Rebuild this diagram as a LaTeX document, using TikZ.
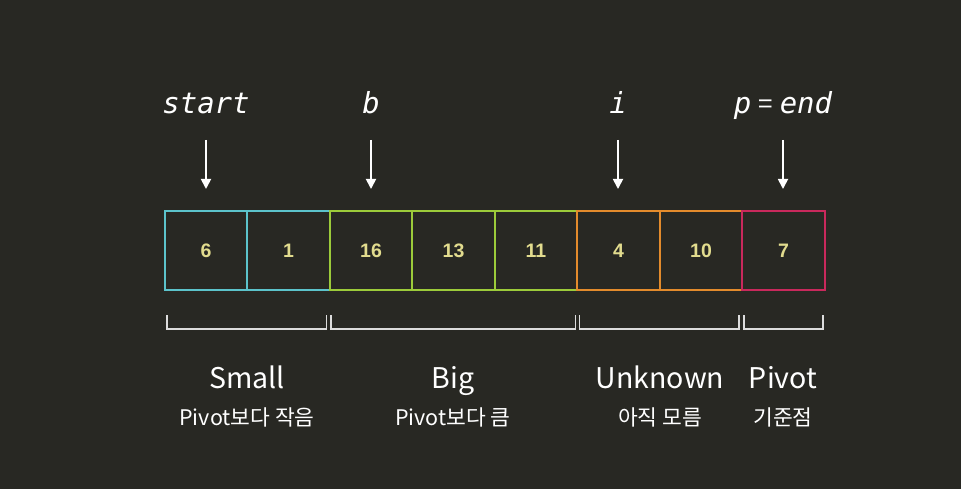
\documentclass[tikz,border=0pt]{standalone}
\usepackage{fontspec}
\setmainfont{Noto Sans CJK KR}
\newfontfamily\numfont{Liberation Sans}
\newfontfamily\codefont{DejaVu Sans Mono}
\usetikzlibrary{arrows.meta}
\definecolor{bg}{HTML}{282823}
\definecolor{numc}{HTML}{E2DC8E}
\definecolor{cyanc}{HTML}{5CC3CB}
\definecolor{greenc}{HTML}{9CCB3A}
\definecolor{orangec}{HTML}{E38B2C}
\definecolor{pinkc}{HTML}{C9295C}
\definecolor{brk}{HTML}{DCDCDC}
\begin{document}
\begin{tikzpicture}[x=1pt,y=-1pt,
  cell/.style={draw=#1, line width=1.6pt, minimum width=82pt, minimum height=79pt, inner sep=0pt, outer sep=0pt, anchor=north west, text=numc, font=\numfont\bfseries\fontsize{19.5}{19.5}\selectfont},
  wide/.style={minimum width=83pt},
  ptr/.style={text=white, font=\codefont\itshape\fontsize{29}{29}\selectfont, anchor=base},
  parr/.style={draw=white, line width=1.8pt, -{Triangle[width=10pt,length=10pt]}},
  brace/.style={draw=brk, line width=1.8pt},
  title/.style={text=white, font=\fontsize{28.5}{28.5}\selectfont, anchor=base},
  sub/.style={text=white, font=\fontsize{21.5}{21.5}\selectfont, anchor=base}
]
\fill[bg] (0,0) rectangle (961,489);
\useasboundingbox (0,0) rectangle (961,489);
% cells
\node[cell=cyanc] (c1) at (165,211) {6};
\node[cell=cyanc, wide] (c2) at (247,211) {1};
\node[cell=greenc] (c3) at (330,211) {16};
\node[cell=greenc, wide] (c4) at (412,211) {13};
\node[cell=greenc] (c5) at (495,211) {11};
\node[cell=orangec, wide] (c6) at (577,211) {4};
\node[cell=orangec] (c7) at (660,211) {10};
\node[cell=pinkc, wide] (c8) at (742,211) {7};
% pointers
\node[ptr] (pstart) at (206,114) {start};
\node[ptr] (pb) at (371,114) {b};
\node[ptr] (pi) at (618,114) {i};
\node[ptr] (pend) at (783,114) {p\hspace{7pt}{\normalfont\upshape\fontsize{26}{26}\selectfont=}\hspace{7pt}end};
\coordinate (a1) at (206,140); \coordinate (e1) at (206,189);
\coordinate (a2) at (371,140); \coordinate (e2) at (371,189);
\coordinate (a3) at (618,140); \coordinate (e3) at (618,189);
\coordinate (a4) at (783,140); \coordinate (e4) at (783,189);
\draw[parr] (a1) -- (e1);
\draw[parr] (a2) -- (e2);
\draw[parr] (a3) -- (e3);
\draw[parr] (a4) -- (e4);
% brackets
\draw[brace] (167,315) -- (167,329) -- (326.5,329) -- (326.5,315);
\draw[brace] (331,315) -- (331,329) -- (575.5,329) -- (575.5,315);
\draw[brace] (579.5,315) -- (579.5,329) -- (739,329) -- (739,315);
\draw[brace] (744,315) -- (744,329) -- (823,329) -- (823,315);
% labels
\node[title] (tsmall) at (247,388) {Small};
\node[title] (tbig) at (453,388) {Big};
\node[title] (tunk) at (660,388) {Unknown};
\node[title] (tpiv) at (783,388) {Pivot};
\node[sub] (ssmall) at (247,425) {Pivot보다 작음};
\node[sub] (sbig) at (453,425) {Pivot보다 큼};
\node[sub] (sunk) at (660,425) {아직 모름};
\node[sub] (spiv) at (783,425) {기준점};
\end{tikzpicture}
\end{document}
